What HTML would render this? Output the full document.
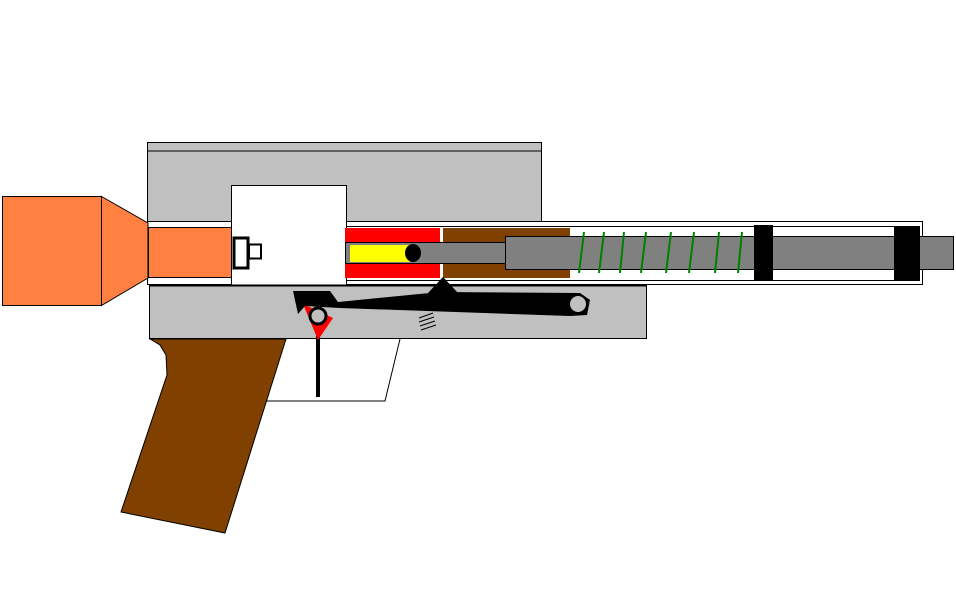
<!DOCTYPE html>
<html><head><style>body{margin:0;background:#fff}svg{display:block}</style></head><body>
<svg width="956" height="605" viewBox="0 0 956 605" xmlns="http://www.w3.org/2000/svg">
<rect width="956" height="605" fill="#fff"/>
<!-- top block -->
<rect x="147.5" y="142.5" width="394" height="79" fill="#c0c0c0" stroke="#000"/>
<line x1="147" y1="151" x2="541" y2="151" stroke="#000"/>
<!-- tube -->
<rect x="147.5" y="221.5" width="775" height="63" fill="#fff" stroke="#000"/>
<line x1="346" y1="226.5" x2="920" y2="226.5" stroke="#000"/>
<line x1="346" y1="280.5" x2="920" y2="280.5" stroke="#000"/>
<!-- orange -->
<rect x="2.5" y="196.5" width="99" height="109" fill="#ff8040" stroke="#000"/>
<polygon points="101.5,196.5 148,223 148,278 101.5,305.5" fill="#ff8040" stroke="#000"/>
<rect x="148.5" y="227.5" width="84" height="50" fill="#ff8040" stroke="#000"/>
<!-- white bolt block -->
<rect x="231.5" y="185.5" width="115" height="100" fill="#fff" stroke="#000"/>
<rect x="234" y="238" width="14" height="30" fill="#fff" stroke="#000" stroke-width="3"/>
<rect x="249" y="244.5" width="12" height="14" fill="#fff" stroke="#000" stroke-width="2"/>
<!-- red chamber, brown -->
<rect x="345" y="228" width="95" height="50" fill="#ff0000"/>
<rect x="443" y="228" width="127" height="50" fill="#804000"/>
<!-- rod -->
<rect x="505.5" y="236.5" width="448" height="33" fill="#808080" stroke="#000"/>
<rect x="345.5" y="242.5" width="160" height="21" fill="#808080" stroke="#000"/>
<rect x="350" y="245" width="60" height="17" fill="#ffff00"/>
<ellipse cx="413" cy="253" rx="8" ry="9" fill="#000"/>
<!-- spring -->
<g stroke="#008000" stroke-width="2">
<line x1="584" y1="232" x2="579" y2="273"/>
<line x1="604" y1="232" x2="599" y2="273"/>
<line x1="624" y1="232" x2="620" y2="273"/>
<line x1="646" y1="232" x2="641" y2="273"/>
<line x1="671" y1="232" x2="666" y2="273"/>
<line x1="694" y1="232" x2="689" y2="273"/>
<line x1="719" y1="232" x2="715" y2="273"/>
<line x1="742" y1="232" x2="738" y2="273"/>
</g>
<rect x="754" y="225" width="19" height="56" fill="#000"/>
<rect x="894" y="226" width="26" height="55" fill="#000"/>
<!-- lower block -->
<rect x="149.5" y="285.5" width="497" height="53" fill="#c0c0c0" stroke="#000"/>
<line x1="149" y1="285.5" x2="647" y2="285.5" stroke="#000" stroke-width="2"/>
<!-- trigger guard -->
<polyline points="267,401 385,401 400,339" fill="none" stroke="#000"/>
<!-- grip -->
<polygon points="150,339 160,345 166,355 167,375 121,512 225,533 286,339" fill="#804000" stroke="#000"/>
<!-- trigger -->
<line x1="318" y1="335" x2="318" y2="397" stroke="#000" stroke-width="4"/>
<polygon points="303,304 333,318 318,340" fill="#ff0000"/>
<!-- lever -->
<polygon points="293,291 330,291 338,302 440,292 580,293 590,300 587,315 570,316 340,308 305,306 298,314" fill="#000"/>
<polygon points="443,277 428,293 458,293" fill="#000"/>
<circle cx="318" cy="316" r="8" fill="#c0c0c0" stroke="#000" stroke-width="3"/>
<circle cx="578" cy="304" r="9" fill="#c0c0c0" stroke="#000" stroke-width="2"/>
<g stroke="#000" stroke-width="1">
<line x1="419" y1="318" x2="433" y2="313"/>
<line x1="419" y1="322" x2="434" y2="317"/>
<line x1="420" y1="326" x2="435" y2="321"/>
<line x1="421" y1="330" x2="436" y2="325"/>
</g>
</svg>
</body></html>
